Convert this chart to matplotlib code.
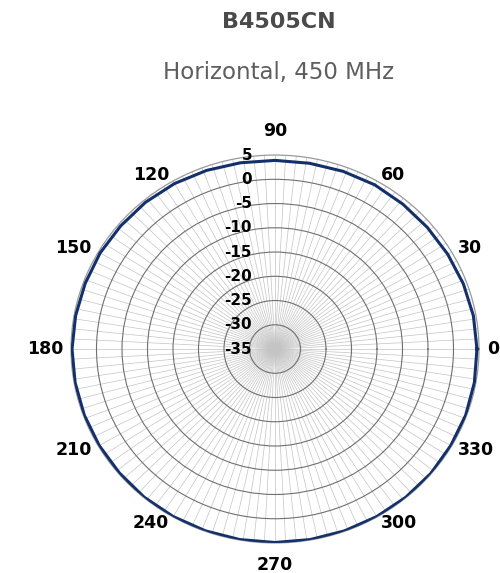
import numpy as np
import matplotlib
matplotlib.use("Agg")
import matplotlib.pyplot as plt

# horizontal pattern, gain in dB every 10 degrees
angles_deg = np.arange(0, 360, 10)
gain_db = [4.6, 4.5, 4.3, 4.1, 4.0, 4.0, 4.1, 4.0, 3.9, 3.9, 4.0, 4.2,
           4.4, 4.5, 4.5, 4.6, 4.6, 4.7, 4.8, 4.8, 4.8, 4.8, 4.8, 4.9,
           4.9, 4.9, 4.9, 4.9, 4.9, 4.9, 4.9, 4.9, 4.9, 4.8, 4.8, 4.7]

ring_values = [-35, -30, -25, -20, -15, -10, -5, 0, 5]
angle_labels = [0, 30, 60, 90, 120, 150, 180, 210, 240, 270, 300, 330]
r_min, r_max = -35, 5

fig = plt.figure(figsize=(5.0, 5.73), dpi=100)
fig.text(0.558, 1 - 22 / 573, "B4505CN", ha="center", va="center",
         fontsize=16, fontweight="bold", color="#4a4a4a")
fig.text(0.558, 1 - 73 / 573, "Horizontal, 450 MHz", ha="center", va="center",
         fontsize=16.5, color="#5e5e5e")

ax = fig.add_axes([0.142, 0.0524, 0.816, 0.677], projection="polar")
ax.set_aspect("auto")
ax.set_ylim(r_min, r_max)

# spokes every 3 degrees, rings every 5 dB
ax.set_xticks(np.deg2rad(np.arange(0, 360, 3)))
ax.set_xticklabels([])
ax.set_yticks(ring_values[1:-1])
ax.set_yticklabels([])
ax.tick_params(length=0)
ax.xaxis.grid(True, color="#c4c4c4", lw=0.5)
ax.yaxis.grid(True, color="#707070", lw=0.8)
ax.spines["polar"].set_color("#9a9a9a")
ax.spines["polar"].set_linewidth(0.9)

theta = np.deg2rad(np.append(angles_deg, angles_deg[0]))
r = np.append(gain_db, gain_db[0])
ax.plot(theta, r, color="#13306b", lw=2.2, zorder=5)

# angle labels around the rim
for a in angle_labels:
    t = np.deg2rad(a)
    c, s = np.cos(t), np.sin(t)
    ha = "left" if c > 0.3 else ("right" if c < -0.3 else "center")
    va = "bottom" if s > 0.95 else ("top" if s < -0.95 else "center")
    rr = 8.2 if s > 0.95 else (7.6 if s < -0.95 else 6.5)
    ax.text(t, rr, str(a), ha=ha, va=va, fontsize=12.5, fontweight="bold",
            color="black", clip_on=False)

# dB labels up the 90 degree spoke
for v in ring_values:
    y = 0.5 + 0.5 * (v - r_min) / (r_max - r_min)
    ax.text(0.5 - 23 / 408, y, str(v), transform=ax.transAxes, ha="right",
            va="center", fontsize=11, fontweight="bold", color="black",
            zorder=6)

fig.savefig("out.png", dpi=100)
